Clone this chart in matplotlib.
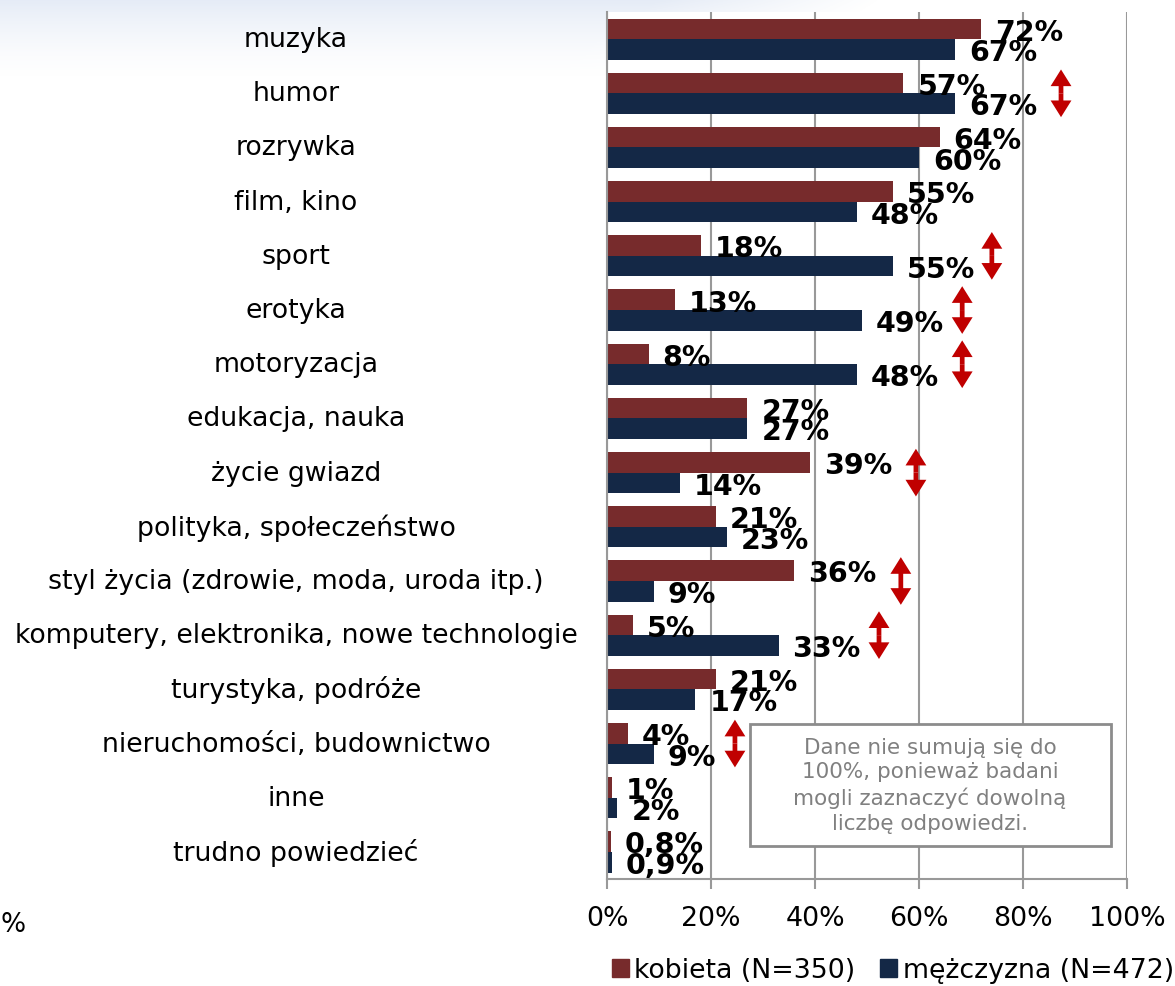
import numpy as np
import matplotlib
matplotlib.use("Agg")
import matplotlib.pyplot as plt
from matplotlib.patches import Patch, Rectangle

plt.rcParams['font.family'] = ['DejaVu Sans']

# dane: odsetek wskazań wg płci
kategorie = ['muzyka', 'humor', 'rozrywka', 'film, kino', 'sport', 'erotyka',
             'motoryzacja', 'edukacja, nauka', 'życie gwiazd',
             'polityka, społeczeństwo', 'styl życia (zdrowie, moda, uroda itp.)',
             'komputery, elektronika, nowe technologie', 'turystyka, podróże',
             'nieruchomości, budownictwo', 'inne', 'trudno powiedzieć']
kobieta = [72, 57, 64, 55, 18, 13, 8, 27, 39, 21, 36, 5, 21, 4, 1, 0.8]
mezczyzna = [67, 67, 60, 48, 55, 49, 48, 27, 14, 23, 9, 33, 17, 9, 2, 0.9]
# kategorie z istotną różnicą i pozycja strzałki na osi X
roznice = ['humor', 'sport', 'erotyka', 'motoryzacja', 'życie gwiazd',
           'styl życia (zdrowie, moda, uroda itp.)',
           'komputery, elektronika, nowe technologie', 'nieruchomości, budownictwo']
strzalki_x = [87.3, 74.0, 68.3, 68.3, 59.4, 56.5, 52.3, 24.6]
ticks = [0, 20, 40, 60, 80, 100]

red = '#772B2C'
navy = '#142846'
grid = '#999999'

fig = plt.figure(figsize=(11.75, 9.87), dpi=100)

# jasnoniebieskie tło slajdu u góry
bg = fig.add_axes([0, 0, 1, 1], zorder=-10)
bg.set_axis_off()
h, w = 987, 1175
yy, xx = np.mgrid[0:h, 0:w]
alpha = np.clip(1 - yy / 80.0, 0, 1) ** 1.5 * np.clip((880 - xx - yy * 1.5) / 220.0, 0, 1) * 0.5
img = np.zeros((h, w, 4))
img[..., 0] = 0.80
img[..., 1] = 0.85
img[..., 2] = 0.93
img[..., 3] = alpha
bg.imshow(img, extent=[0, 1, 0, 1], aspect='auto')
bg.set_xlim(0, 1)
bg.set_ylim(0, 1)

ax = fig.add_axes([0.5166, 0.1084, 0.4426, 0.8784])
y = np.arange(len(kategorie))
bh = 0.38
ax.barh(y - bh / 2, kobieta, bh, color=red, label='kobieta (N=350)', zorder=2)
ax.barh(y + bh / 2, mezczyzna, bh, color=navy, label='mężczyzna (N=472)', zorder=2)

def fmt(v):
    return ('%g%%' % v).replace('.', ',')

# etykiety wartości
for i, (k, m) in enumerate(zip(kobieta, mezczyzna)):
    for v, yp in ((k, i - bh / 2), (m, i + bh / 2)):
        ax.annotate(fmt(v), (v, yp), xytext=(10, -2), textcoords='offset points',
                    ha='left', va='center', fontsize=20.5, fontweight='bold',
                    color='black', zorder=4)

# strzałki przy istotnych różnicach (dwie połówki od środka)
styl = 'simple,head_length=0.6,head_width=0.75,tail_width=0.17'
for nazwa, xs in zip(roznice, strzalki_x):
    i = kategorie.index(nazwa)
    for kon in (i - 0.44, i + 0.44):
        ax.annotate('', xy=(xs, kon), xytext=(xs, i),
                    arrowprops=dict(arrowstyle=styl, fc='#C00000', ec='none', lw=0,
                                    mutation_scale=20, shrinkA=0, shrinkB=0),
                    zorder=5)

# nazwy kategorii wyśrodkowane po lewej
for i, nazwa in enumerate(kategorie):
    ax.text(-0.598, i, nazwa, transform=ax.get_yaxis_transform(),
            ha='center', va='center', fontsize=19.3, color='black')

ax.set_ylim(len(kategorie) - 0.5, -0.5)
ax.set_xlim(0, 100)
ax.set_yticks([])
ax.set_xticks(ticks)
ax.set_xticklabels(['%d%%' % t for t in ticks], fontsize=19.3)
ax.tick_params(axis='x', length=7, width=1.5, color=grid, pad=12)
ax.grid(axis='x', color=grid, lw=1.5, zorder=0)
ax.set_axisbelow(True)
for s in ['top', 'right']:
    ax.spines[s].set_visible(False)
for s in ['left', 'bottom']:
    ax.spines[s].set_color(grid)
    ax.spines[s].set_linewidth(1.5)

# ramka z przypisem
ax.add_patch(Rectangle((27.5, 12.64), 69.4, 2.25, fc='white', ec='#8c8c8c',
                       lw=2, zorder=6, clip_on=False))
ax.text(62.1, 13.76, 'Dane nie sumują się do\n100%, ponieważ badani\nmogli zaznaczyć dowolną\nliczbę odpowiedzi.',
        ha='center', va='center', fontsize=15.5, color='#808080', linespacing=1.3,
        zorder=7)

fig.legend(handles=[Patch(color=red), Patch(color=navy)],
           labels=['kobieta (N=350)', 'mężczyzna (N=472)'],
           loc='center right', bbox_to_anchor=(0.999, 0.016), frameon=False,
           fontsize=19.3, handlelength=0.65, handleheight=0.65, handletextpad=0.2,
           columnspacing=0.9, ncol=2, borderpad=0, borderaxespad=0)

fig.text(0.0, 0.0628, '%', ha='left', va='center', fontsize=19)

fig.savefig('out.png', dpi=100)
